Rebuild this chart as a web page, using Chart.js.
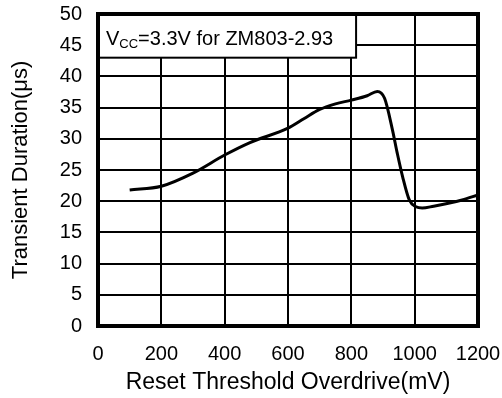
<!DOCTYPE html>
<html>
<head>
<meta charset="utf-8">
<script src="https://cdn.jsdelivr.net/npm/chart.js@4"></script>
<style>
  html, body { margin: 0; padding: 0; background: #fff; }
  canvas { display: block; }
</style>
</head>
<body>
<canvas id="chart" width="502" height="398"></canvas>
<script>
// values
const overdrive = [100, 200, 300, 400, 480, 600, 650, 700, 750, 800, 850, 882, 905, 930, 945, 962, 983, 1004, 1024, 1060, 1110, 1150, 1200];
const duration = [21.8, 22.4, 24.5, 27.4, 29.4, 31.7, 33.2, 34.7, 35.6, 36.2, 36.9, 37.6, 36.5, 31.4, 27.7, 23.9, 20.2, 19.1, 18.9, 19.2, 19.7, 20.2, 21.0];

const xTicks = [0, 200, 400, 600, 800, 1000, 1200];
const yTicks = [0, 5, 10, 15, 20, 25, 30, 35, 40, 45, 50];

// note box corners, in data units
const noteBox = { x0: 0, x1: 815, y0: 43, y1: 50 };

const FONT = '"Liberation Sans", Arial, sans-serif';

const frameAndNote = {
    id: 'frameAndNote',
    beforeDatasetsDraw(chart) {
        const ctx = chart.ctx;
        const xs = chart.scales.x, ys = chart.scales.y;
        const l = xs.getPixelForValue(noteBox.x0), r = xs.getPixelForValue(noteBox.x1);
        const t = ys.getPixelForValue(noteBox.y1), b = ys.getPixelForValue(noteBox.y0);
        ctx.save();
        ctx.fillStyle = '#fff';
        ctx.fillRect(l, t, r - l, b - t);
        ctx.strokeStyle = '#000';
        ctx.lineWidth = 2;
        ctx.strokeRect(l, t, r - l, b - t);
        ctx.fillStyle = '#000';
        ctx.textBaseline = 'alphabetic';
        let x = l + 8, y = t + 31;
        ctx.font = '20px ' + FONT;
        ctx.fillText('V', x, y);
        x += ctx.measureText('V').width;
        ctx.font = '13px ' + FONT;
        ctx.fillText('CC', x, y + 3);
        x += ctx.measureText('CC').width;
        ctx.font = '20px ' + FONT;
        ctx.fillText('=3.3V for ZM803-2.93', x, y);
        ctx.restore();
    },
    afterDatasetsDraw(chart) {
        const a = chart.chartArea;
        const ctx = chart.ctx;
        ctx.save();
        ctx.strokeStyle = '#000';
        ctx.lineWidth = 4;
        ctx.strokeRect(a.left, a.top, a.right - a.left, a.bottom - a.top);
        ctx.restore();
    }
};

new Chart(document.getElementById('chart'), {
    type: 'line',
    data: {
        datasets: [{
            data: overdrive.map((v, i) => ({ x: v, y: duration[i] })),
            borderColor: '#000',
            borderWidth: 3,
            pointRadius: 0,
            cubicInterpolationMode: 'monotone',
            fill: false
        }]
    },
    options: {
        responsive: false,
        animation: false,
        layout: { padding: { top: 14, right: 24, left: 0, bottom: 0 } },
        plugins: { legend: { display: false }, tooltip: { enabled: false } },
        scales: {
            x: {
                type: 'linear',
                min: 0, max: 1200,
                afterBuildTicks: s => { s.ticks = xTicks.map(v => ({ value: v })); },
                afterFit: s => { s.height = 72; s.paddingLeft = 0; s.paddingRight = 0; },
                grid: { color: '#000', lineWidth: 2, drawTicks: false },
                border: { display: false },
                ticks: {
                    color: '#000', padding: 16, maxRotation: 0,
                    font: { family: FONT, size: 20 },
                    callback: v => String(v)
                },
                title: {
                    display: true,
                    text: 'Reset Threshold Overdrive(mV)',
                    color: '#000',
                    font: { family: FONT, size: 23 },
                    padding: { top: 0, bottom: 2 }
                }
            },
            y: {
                min: 0, max: 50,
                afterBuildTicks: s => { s.ticks = yTicks.map(v => ({ value: v })); },
                afterFit: s => { s.width = 98; s.paddingTop = 0; s.paddingBottom = 0; },
                grid: { color: '#000', lineWidth: 2, drawTicks: false },
                border: { display: false },
                ticks: { color: '#000', padding: 16, font: { family: FONT, size: 20 } },
                title: {
                    display: true,
                    text: 'Transient Duration(μs)',
                    color: '#000',
                    font: { family: FONT, size: 22 },
                    padding: { top: 8, bottom: 0 }
                }
            }
        }
    },
    plugins: [frameAndNote]
});
</script>
</body>
</html>
